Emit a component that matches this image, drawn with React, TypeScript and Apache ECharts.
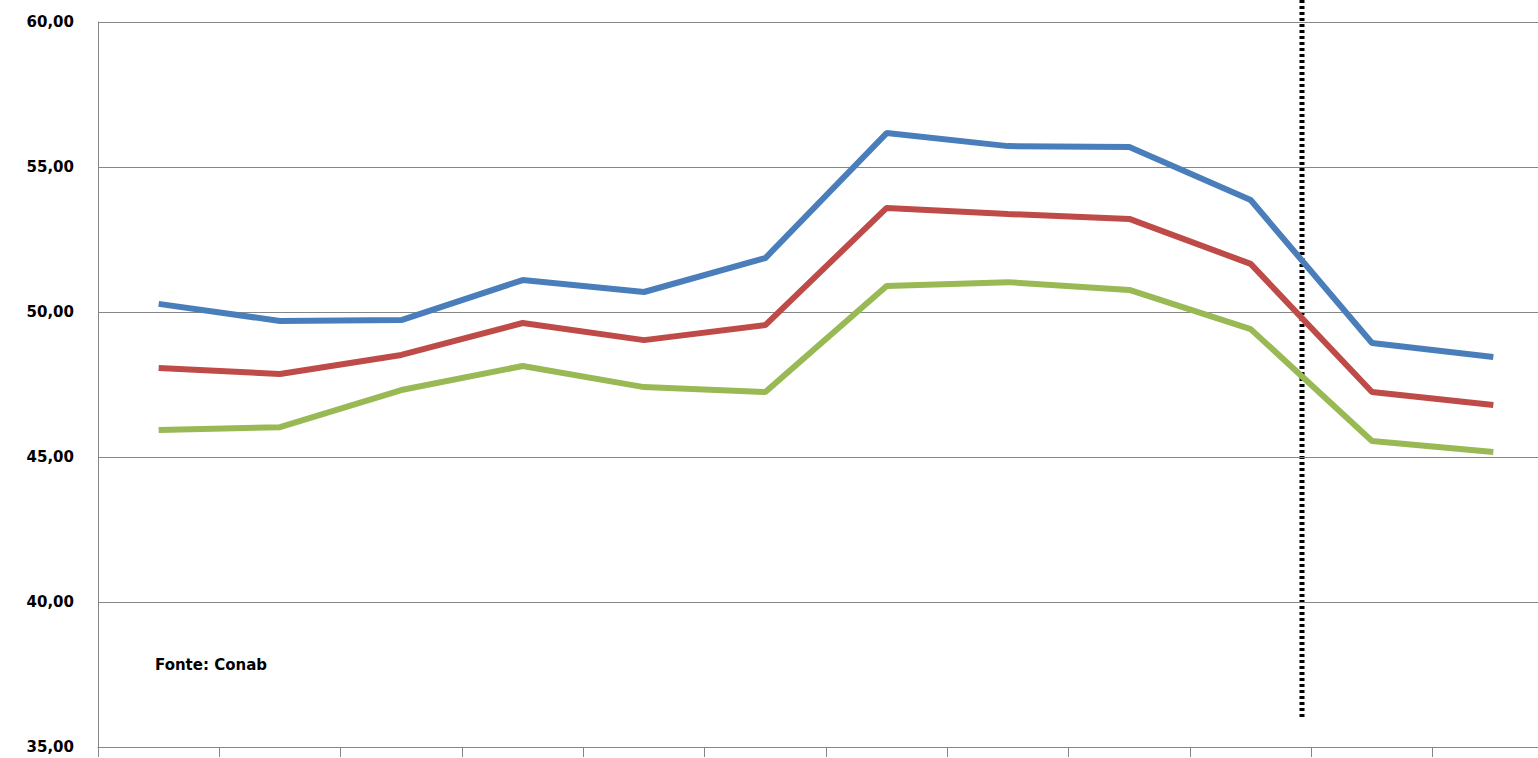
import React, { useEffect, useRef } from 'react';
import * as echarts from 'echarts';

const categories = ['1', '2', '3', '4', '5', '6', '7', '8', '9', '10', '11', '12'];
const blue = [50.28, 49.69, 49.72, 51.1, 50.69, 51.86, 56.17, 55.72, 55.69, 53.86, 48.93, 48.45];
const red = [48.07, 47.86, 48.52, 49.62, 49.03, 49.55, 53.59, 53.38, 53.21, 51.66, 47.24, 46.79];
const green = [45.93, 46.03, 47.31, 48.14, 47.41, 47.24, 50.9, 51.03, 50.76, 49.41, 45.55, 45.17];

export default function App() {
  const ref = useRef<HTMLDivElement>(null);

  useEffect(() => {
    if (!ref.current) return;
    const chart = echarts.init(ref.current, null, { renderer: 'svg' });
    const mk = (name: string, data: number[], color: string) => ({
      name, type: 'line', data, symbol: 'none',
      lineStyle: { color, width: 6 }, itemStyle: { color },
    });
    chart.setOption({
      animation: false,
      grid: { left: 98, top: 22, right: 0, bottom: 11, containLabel: false },
      xAxis: {
        type: 'category', data: categories,
        axisLabel: { show: false },
        axisLine: { lineStyle: { color: '#868686' } },
        axisTick: { show: true, interval: 0, length: 10, lineStyle: { color: '#868686' } },
      },
      yAxis: {
        type: 'value', min: 35, max: 60, interval: 5,
        axisLabel: {
          formatter: (v: number) => v.toFixed(2).replace('.', ','),
          fontFamily: 'DejaVu Sans', fontWeight: 'bold', fontSize: 15, color: '#000', margin: 24,
        },
        axisLine: { show: true, lineStyle: { color: '#868686' } },
        splitLine: { lineStyle: { color: '#868686' } },
      },
      graphic: [
        { type: 'line', shape: { x1: 1302, y1: 0, x2: 1302, y2: 718 },
          style: { stroke: '#000', lineWidth: 5, lineDash: [3, 3] } },
        { type: 'text', left: 155, top: 657,
          style: { text: 'Fonte: Conab', fontFamily: 'DejaVu Sans', fontWeight: 'bold', fontSize: 15, fill: '#000' } },
      ],
      series: [
        mk('Azul', blue, '#4a7ebb'),
        mk('Vermelho', red, '#be4b48'),
        mk('Verde', green, '#98b954'),
      ],
    });
    return () => chart.dispose();
  }, []);

  return <div ref={ref} style={{ position: 'fixed', left: 0, top: 0, width: 1554, height: 758, background: '#fff' }} />;
}
